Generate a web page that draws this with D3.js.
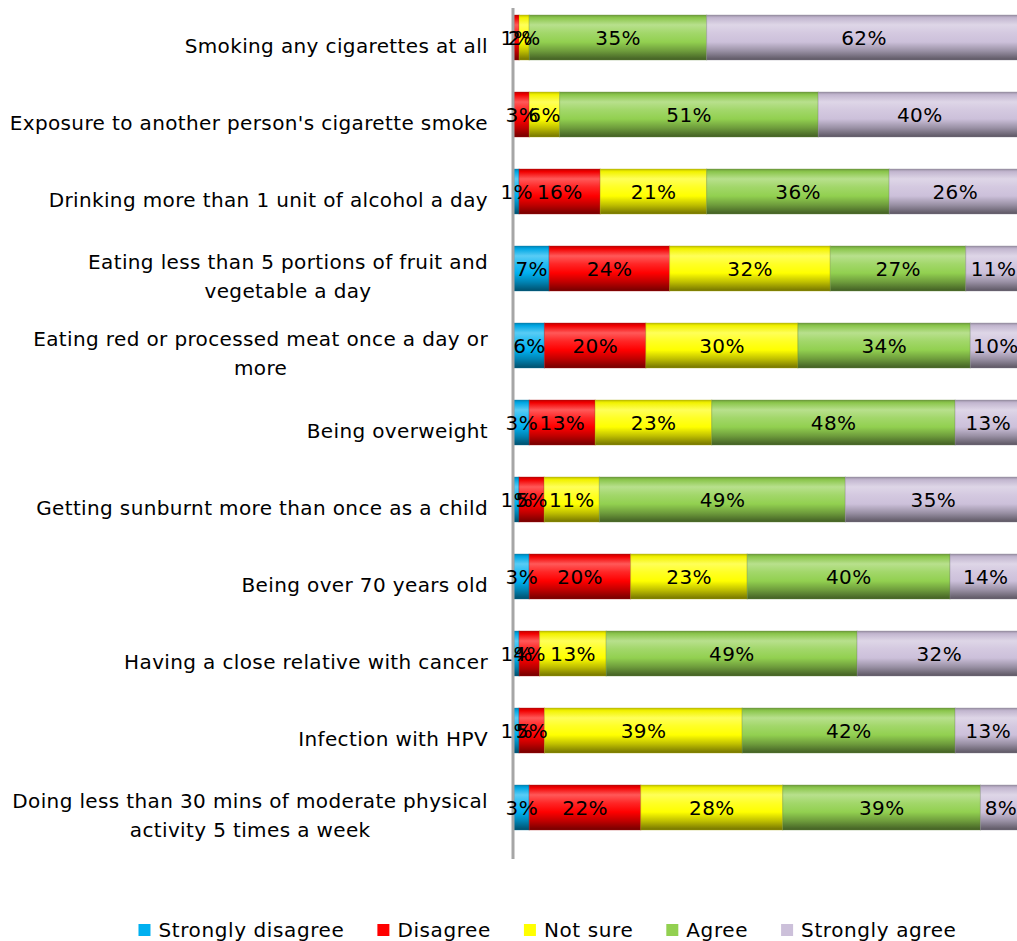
<!DOCTYPE html>
<html>
<head>
<meta charset="utf-8">
<script src="https://cdn.jsdelivr.net/npm/d3@7/dist/d3.min.js"></script>
<style>
  html, body { margin: 0; padding: 0; background: #fff; }
  svg { display: block; font-family: "DejaVu Sans", sans-serif; }
</style>
</head>
<body>
<svg id="chart" width="1017" height="941"></svg>
<script>
// Survey statements (top to bottom)
const categories = [
  "Smoking any cigarettes at all",
  "Exposure to another person's cigarette smoke",
  "Drinking more than 1 unit of alcohol a day",
  "Eating less than 5 portions of fruit and\nvegetable a day",
  "Eating red or processed meat once a day or\nmore",
  "Being overweight",
  "Getting sunburnt more than once as a child",
  "Being over 70 years old",
  "Having a close relative with cancer",
  "Infection with HPV",
  "Doing less than 30 mins of moderate physical\nactivity 5 times a week"
];

const seriesNames = ["Strongly disagree", "Disagree", "Not sure", "Agree", "Strongly agree"];

// Percentages per response, one value per statement
const stronglyDisagree = [0, 0, 1, 7, 6, 3, 1, 3, 1, 1, 3];
const disagree         = [1, 3, 16, 24, 20, 13, 5, 20, 4, 5, 22];
const notSure          = [2, 6, 21, 32, 30, 23, 11, 23, 13, 39, 28];
const agree            = [35, 51, 36, 27, 34, 48, 49, 40, 49, 42, 39];
const stronglyAgree    = [62, 40, 26, 11, 10, 13, 35, 14, 32, 13, 8];

const seriesColors = ["#00B0F0", "#FF0000", "#FFFF00", "#92D050", "#CCC0DA"];

const seriesValues = [stronglyDisagree, disagree, notSure, agree, stronglyAgree];

const svg = d3.select("#chart");

const x = d3.scaleLinear().domain([0, 1]).range([514, 1021]);
const y = d3.scaleBand()
  .domain(categories)
  .range([-1, 846])
  .paddingInner(0.416)
  .paddingOuter(0.208);

// Build normalised stacks (100% stacked bars)
const rows = categories.map((c, i) => {
  const vals = seriesValues.map(s => s[i]);
  const total = d3.sum(vals);
  let acc = 0;
  return vals.map((v, k) => {
    const seg = { cat: c, k, v, x0: acc / total, x1: (acc + v) / total };
    acc += v;
    return seg;
  });
});

// Glossy vertical gradients for each series colour
const defs = svg.append("defs");
seriesColors.forEach((col, k) => {
  const g = defs.append("linearGradient")
    .attr("id", "grad" + k)
    .attr("x1", 0).attr("y1", 0).attr("x2", 0).attr("y2", 1);
  const mixW = (t) => d3.interpolateRgb(col, "#ffffff")(t);
  const mixB = (t) => d3.interpolateRgb(col, "#000000")(t);
  const stops = [
    [0.00, mixB(0.25)],
    [0.06, mixB(0.05)],
    [0.22, mixW(0.35)],
    [0.40, mixW(0.15)],
    [0.60, col],
    [0.80, mixB(0.25)],
    [1.00, mixB(0.55)]
  ];
  stops.forEach(([o, cc]) => g.append("stop").attr("offset", o).attr("stop-color", cc));
});

// Bars
const segG = svg.append("g");
rows.forEach(r => {
  r.forEach(s => {
    if (s.v <= 0) return;
    segG.append("rect")
      .attr("x", x(s.x0))
      .attr("y", y(s.cat))
      .attr("width", x(s.x1) - x(s.x0))
      .attr("height", y.bandwidth())
      .attr("fill", `url(#grad${s.k})`)
      .attr("stroke", d3.interpolateRgb(seriesColors[s.k], "#000")(0.35))
      .attr("stroke-opacity", 0.35)
      .attr("stroke-width", 1);
  });
});

// Category axis line
svg.append("line")
  .attr("x1", 513).attr("x2", 513)
  .attr("y1", 8).attr("y2", 859)
  .attr("stroke", "#a6a6a6").attr("stroke-width", 3);

// Value labels
const labG = svg.append("g");
rows.forEach(r => {
  r.forEach(s => {
    if (s.v <= 0) return;
    labG.append("text")
      .attr("x", (x(s.x0) + x(s.x1)) / 2 + 0.2)
      .attr("y", y(s.cat) + y.bandwidth() / 2)
      .attr("dy", "0.36em")
      .attr("text-anchor", "middle")
      .attr("font-size", 20)
      .attr("letter-spacing", 0.4)
      .attr("fill", "#000")
      .text(s.v + "%");
  });
});

// Category labels (right aligned block, lines centred within it)
const catG = svg.append("g");
const lineH = 29;
categories.forEach(c => {
  const lines = c.split("\n");
  const cy = y(c) + y.bandwidth() / 2 + 8;
  const t = catG.append("text")
    .attr("font-size", 20)
    .attr("letter-spacing", 0.37)
    .attr("fill", "#000");
  const tspans = lines.map((ln, j) => t.append("tspan")
    .attr("y", cy + (j - (lines.length - 1) / 2) * lineH)
    .attr("dy", "0.36em")
    .text(ln));
  const widths = tspans.map(ts => ts.node().getComputedTextLength());
  const bw = d3.max(widths);
  const right = 488;
  tspans.forEach(ts => ts.attr("x", right - bw / 2).attr("text-anchor", "middle"));
});

// Legend
const legG = svg.append("g");
const items = [];
let cursor = 0;
seriesNames.forEach((n, k) => {
  const g = legG.append("g");
  g.append("rect").attr("x", 0).attr("y", -6).attr("width", 12).attr("height", 12)
    .attr("fill", seriesColors[k]);
  const t = g.append("text").attr("x", 20).attr("y", 0).attr("dy", "0.36em")
    .attr("font-size", 20).attr("letter-spacing", 0.6).text(n);
  const w = 20 + t.node().getComputedTextLength();
  items.push({ g, off: cursor });
  cursor += w + 33;
});
const totalW = cursor - 33;
const startX = 547.5 - totalW / 2;
items.forEach(it => it.g.attr("transform", `translate(${startX + it.off},930)`));
</script>
</body>
</html>
